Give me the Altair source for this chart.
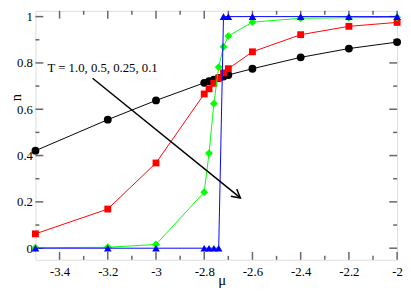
import altair as alt
import pandas as pd

mu = [-3.5, -3.2, -3.0, -2.8, -2.78, -2.76, -2.74, -2.72, -2.7, -2.6, -2.4, -2.2, -2.0]
n_T1 = [0.421, 0.555, 0.638, 0.714, 0.721, 0.728, 0.735, 0.741, 0.748, 0.775, 0.824, 0.862, 0.89]
n_T05 = [0.062, 0.169, 0.368, 0.666, 0.688, 0.712, 0.735, 0.757, 0.775, 0.848, 0.922, 0.958, 0.975]
n_T025 = [0.002, 0.004, 0.016, 0.242, 0.41, 0.624, 0.782, 0.87, 0.916, 0.976, 0.993, 0.995, 0.997]
n_T01 = [0.0, 0.0, 0.0, 0.0, 0.0, 0.0, 0.0, 1.0, 1.0, 1.0, 1.0, 1.0, 1.0]

series = [
    ("T=1.0", n_T1, "#000000", "circle", 64),
    ("T=0.5", n_T05, "#ff0000", "square", 49),
    ("T=0.25", n_T025, "#00ff00", "diamond", 64),
    ("T=0.1", n_T01, "#0000ff", "triangle-up", 60),
]

x_major = [-3.4, -3.2, -3, -2.8, -2.6, -2.4, -2.2, -2]
x_minor = [-3.3, -3.1, -2.9, -2.7, -2.5, -2.3, -2.1]
y_major = [0, 0.2, 0.4, 0.6, 0.8, 1]
y_minor = [0.1, 0.3, 0.5, 0.7, 0.9]

label_text = "T = 1.0, 0.5, 0.25, 0.1"

W, H = 369, 254
XD = [-3.5, -2.0]
YD = [-0.05, 1.025]
FONT = "Liberation Serif"
FRAME = "#666666"

xs = alt.Scale(domain=XD, nice=False, zero=False)
ys = alt.Scale(domain=YD, nice=False, zero=False)

xaxis = alt.Axis(values=x_major, ticks=False, domain=False, grid=False,
                 labelExpr="'' + datum.value", labelFont=FONT, labelFontSize=13,
                 labelColor="#000", labelPadding=6, title="μ", titleFont=FONT,
                 titleFontSize=15, titleFontWeight="normal", titleY=25, titleX=190,
                 titleBaseline="alphabetic", titleColor="#000", labelFlush=False)
yaxis = alt.Axis(values=y_major, ticks=False, domain=False, grid=False,
                 labelExpr="'' + datum.value", labelFont=FONT, labelFontSize=13,
                 labelColor="#000", labelPadding=3, title="n", titleFont=FONT,
                 titleFontSize=15, titleFontWeight="normal", titleX=-20, titleY=88,
                 titleBaseline="middle", titleColor="#000", labelFlush=False)


def X(field):
    return alt.X(field, scale=xs, axis=xaxis)


def Y(field):
    return alt.Y(field, scale=ys, axis=yaxis)


layers = []
for name, vals, col, shape, size in series:
    df = pd.DataFrame({"mu": mu, "n": vals})
    base = alt.Chart(df)
    layers.append(base.mark_line(color=col, strokeWidth=1, clip=True).encode(x=X("mu:Q"), y=Y("n:Q")))
    layers.append(base.mark_point(shape=shape, size=size, filled=True, color=col, opacity=1).encode(x=X("mu:Q"), y=Y("n:Q")))


# inward ticks
def xticks(vals, length):
    b = alt.Chart(pd.DataFrame({"v": vals}))
    bottom = b.mark_rule(color=FRAME, strokeWidth=1.5).encode(
        x=X("v:Q"), y=alt.value(H), y2=alt.value(H - length))
    top = b.mark_rule(color=FRAME, strokeWidth=1.5).encode(
        x=X("v:Q"), y=alt.value(0), y2=alt.value(length))
    return [bottom, top]


def yticks(vals, length):
    b = alt.Chart(pd.DataFrame({"v": vals}))
    left = b.mark_rule(color=FRAME, strokeWidth=1.5).encode(
        y=Y("v:Q"), x=alt.value(0), x2=alt.value(length))
    right = b.mark_rule(color=FRAME, strokeWidth=1.5).encode(
        y=Y("v:Q"), x=alt.value(W), x2=alt.value(W - length))
    return [left, right]


tick_layers = xticks(x_major, 8) + xticks(x_minor, 4) + yticks(y_major, 8) + yticks(y_minor, 4)

# annotation
txt = alt.Chart(pd.DataFrame({"x": [-3.45], "y": [0.7605], "t": [label_text]})).mark_text(
    align="left", baseline="alphabetic", font=FONT, fontSize=13, color="#000"
).encode(x=X("x:Q"), y=Y("y:Q"), text="t:N")

arrow_df = pd.DataFrame({"x": [-3.263], "y": [0.734], "x2": [-2.65], "y2": [0.217]})
arrow_line = alt.Chart(arrow_df).mark_rule(color="#000", strokeWidth=1.5).encode(
    x=X("x:Q"), y=Y("y:Q"), x2="x2:Q", y2="y2:Q")
arrow_head = alt.Chart(arrow_df).mark_point(
    shape="M -1 -0.55 L 0 0 L -1 0.55", size=300, filled=False, color="#000",
    strokeWidth=1.5, angle=38.8, opacity=1
).encode(x=X("x2:Q"), y=Y("y2:Q"))

chart = alt.layer(*tick_layers, *layers, txt, arrow_line, arrow_head).properties(
    width=W, height=H,
    autosize=alt.AutoSizeParams(type="none"),
    padding={"left": 28, "top": 0, "right": 6, "bottom": 30},
).configure_view(stroke=FRAME, strokeWidth=2).configure_axis(
    labelFont=FONT, titleFont=FONT, labelFontSize=13, titleFontSize=15
).configure_text(font=FONT).configure(background="white", font=FONT)

chart.save("out.html", embed_options={"renderer": "svg", "actions": False})
